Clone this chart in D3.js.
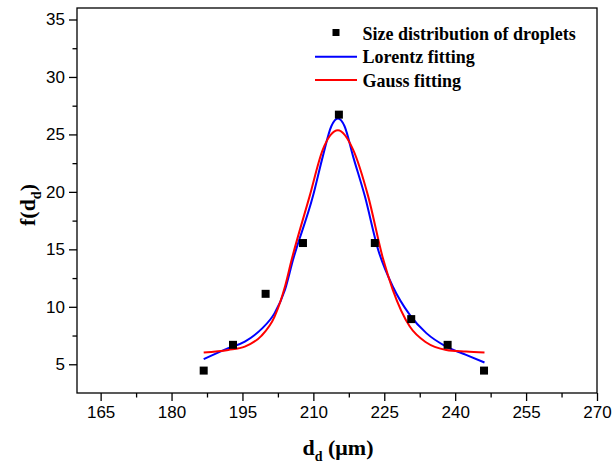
<!DOCTYPE html>
<html>
<head>
<meta charset="utf-8">
<script src="https://cdn.jsdelivr.net/npm/d3@7"></script>
<style>
  body { margin: 0; background: #fff; }
  svg { display: block; }
</style>
</head>
<body>
<div id="chart"></div>
<script>
// measured droplet sizes (um) and f(dd)
const dropD = [186.8, 193.0, 199.9, 207.8, 215.4, 223.0, 230.7, 238.4, 246.1];
const dropF = [4.45, 6.69, 11.13, 15.55, 26.72, 15.55, 8.93, 6.69, 4.45];

// fitted curves
const lorentzD = [186.8, 192.0, 195.5, 199.0, 201.8, 204.0, 205.7, 209.9, 212.0, 213.8, 215.2, 216.6, 218.4, 220.9, 223.7, 226.8, 230.4, 233.9, 238.1, 242.3, 246.2];
const lorentzF = [5.44, 6.40, 6.98, 8.06, 9.45, 11.48, 14.09, 19.61, 23.09, 25.71, 26.38, 25.71, 23.09, 19.61, 14.97, 11.77, 9.30, 7.71, 6.54, 5.82, 5.15];

const gaussD = [186.8, 192.0, 195.5, 199.0, 201.8, 204.0, 205.4, 209.2, 212.0, 215.2, 218.4, 221.6, 224.7, 226.8, 230.4, 233.9, 238.1, 242.3, 246.2];
const gaussF = [6.02, 6.25, 6.54, 7.47, 9.15, 11.77, 14.09, 19.61, 23.68, 25.36, 23.68, 19.61, 14.24, 11.48, 8.28, 6.89, 6.25, 6.11, 6.02];

const xTicks = [165, 180, 195, 210, 225, 240, 255, 270];
const yTicks = [5, 10, 15, 20, 25, 30, 35];

const width = 616;
const height = 466;
const plotLeft = 77, plotRight = 597, plotTop = 8, plotBottom = 393;

const svg = d3.select("#chart").append("svg")
    .attr("width", width)
    .attr("height", height);

const x = d3.scaleLinear().domain([160, 270]).range([plotLeft, plotRight]);
const y = d3.scaleLinear().domain([2.5, 36]).range([plotBottom, plotTop]);

// frame
svg.append("rect")
    .attr("x", plotLeft)
    .attr("y", plotTop)
    .attr("width", plotRight - plotLeft)
    .attr("height", plotBottom - plotTop)
    .attr("fill", "none")
    .attr("stroke", "#000")
    .attr("stroke-width", 1.3);

const tickFont = "'Liberation Sans', Arial, sans-serif";

// minor ticks halfway between the labelled ones
const xMinor = xTicks.slice(0, -1).map(v => v + 7.5);
svg.append("g")
    .attr("transform", `translate(0,${plotBottom})`)
    .call(d3.axisBottom(x).tickValues(xMinor).tickSize(4.5).tickFormat(""))
    .call(g => g.select(".domain").remove())
    .call(g => g.selectAll("line").attr("stroke-width", 1.3));

const yMinor = yTicks.slice(0, -1).map(v => v + 2.5);
svg.append("g")
    .attr("transform", `translate(${plotLeft},0)`)
    .call(d3.axisLeft(y).tickValues(yMinor).tickSize(4.5).tickFormat(""))
    .call(g => g.select(".domain").remove())
    .call(g => g.selectAll("line").attr("stroke-width", 1.3));

// major ticks
svg.append("g")
    .attr("transform", `translate(0,${plotBottom})`)
    .call(d3.axisBottom(x).tickValues(xTicks).tickSize(8).tickPadding(5))
    .call(g => g.select(".domain").remove())
    .call(g => g.selectAll("line").attr("stroke-width", 1.3))
    .call(g => g.selectAll("text")
        .attr("fill", "#000")
        .style("font-family", tickFont)
        .style("font-size", "17px"));

svg.append("g")
    .attr("transform", `translate(${plotLeft},0)`)
    .call(d3.axisLeft(y).tickValues(yTicks).tickSize(8).tickPadding(4))
    .call(g => g.select(".domain").remove())
    .call(g => g.selectAll("line").attr("stroke-width", 1.3))
    .call(g => g.selectAll("text")
        .attr("fill", "#000")
        .style("font-family", tickFont)
        .style("font-size", "17px"));

// fitted curves
const line = d3.line()
    .x(d => x(d[0]))
    .y(d => y(d[1]))
    .curve(d3.curveMonotoneX);

svg.append("path")
    .datum(lorentzD.map((d, i) => [d, lorentzF[i]]))
    .attr("d", line)
    .attr("fill", "none")
    .attr("stroke", "#0000ff")
    .attr("stroke-width", 2);

svg.append("path")
    .datum(gaussD.map((d, i) => [d, gaussF[i]]))
    .attr("d", line)
    .attr("fill", "none")
    .attr("stroke", "#ff0000")
    .attr("stroke-width", 2);

// data points
const sq = 8;
svg.append("g")
    .selectAll("rect")
    .data(dropD.map((d, i) => [d, dropF[i]]))
    .enter()
    .append("rect")
    .attr("x", d => x(d[0]) - sq / 2)
    .attr("y", d => y(d[1]) - sq / 2)
    .attr("width", sq)
    .attr("height", sq)
    .attr("fill", "#000");

// legend
const serif = "'Liberation Serif', 'Times New Roman', serif";
const legend = svg.append("g")
    .style("font-family", serif)
    .style("font-size", "18px")
    .style("font-weight", "bold");

legend.append("rect")
    .attr("x", 332.5).attr("y", 29).attr("width", 7).attr("height", 7)
    .attr("fill", "#000");
legend.append("line")
    .attr("x1", 315).attr("x2", 357).attr("y1", 56.7).attr("y2", 56.7)
    .attr("stroke", "#0000ff").attr("stroke-width", 2);
legend.append("line")
    .attr("x1", 315).attr("x2", 357).attr("y1", 80).attr("y2", 80)
    .attr("stroke", "#ff0000").attr("stroke-width", 2);

legend.append("text").attr("x", 362.5).attr("y", 39.5).text("Size distribution of droplets");
legend.append("text").attr("x", 362.5).attr("y", 63).text("Lorentz fitting");
legend.append("text").attr("x", 362.5).attr("y", 86.5).text("Gauss fitting");

// axis titles
const xTitle = svg.append("text")
    .attr("x", 338)
    .attr("y", 455)
    .attr("text-anchor", "middle")
    .style("font-family", serif)
    .style("font-size", "22px")
    .style("font-weight", "bold");
xTitle.append("tspan").text("d");
xTitle.append("tspan").attr("dy", 6).style("font-size", "14px").text("d");
xTitle.append("tspan").attr("dy", -6).text(" (\u03bcm)");

const yTitle = svg.append("text")
    .attr("transform", "translate(35,205) rotate(-90)")
    .attr("text-anchor", "middle")
    .style("font-family", serif)
    .style("font-size", "22px")
    .style("font-weight", "bold");
yTitle.append("tspan").text("f(d");
yTitle.append("tspan").attr("dy", 6).style("font-size", "14px").text("d");
yTitle.append("tspan").attr("dy", -6).text(")");
</script>
</body>
</html>
